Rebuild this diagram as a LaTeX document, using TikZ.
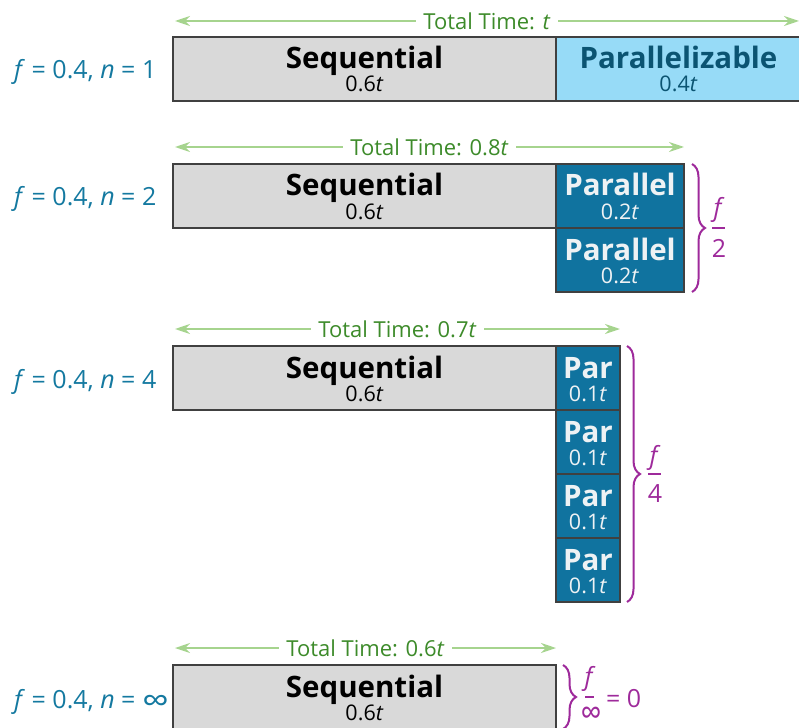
\documentclass[tikz,border=0pt]{standalone}
\usepackage{fontspec}
\setmainfont{Open Sans}
\usetikzlibrary{arrows.meta,decorations.pathreplacing,calc}
\definecolor{boxline}{HTML}{404040}
\definecolor{seqfill}{HTML}{D9D9D9}
\definecolor{lightblue}{HTML}{97DBF7}
\definecolor{lbtext}{HTML}{0B5472}
\definecolor{parblue}{HTML}{10739F}
\definecolor{partext}{HTML}{EEF2F4}
\definecolor{labelblue}{HTML}{1479A0}
\definecolor{arrgreen}{HTML}{A6D48E}
\definecolor{txtgreen}{HTML}{3D8B2A}
\definecolor{purp}{HTML}{9E2A9B}
\newcommand\blk[8]{%
  \node[#2, minimum width={(#5-#3)*1pt}, minimum height={(#6-#4)*1pt}] (#1) at (#3,#4) {};
  \node[ttl] (#1t) at ($(#1.north)+(0,32)$) {#7};
  \node[sub] (#1s) at ($(#1.north)+(0,55)$) {#8};}
\begin{document}
\begin{tikzpicture}[x=1pt,y=-1pt,
  blk/.style={draw=boxline, line width=2pt, inner sep=0pt, outer sep=0pt, anchor=north west},
  seqb/.style={blk, fill=seqfill},
  parz/.style={blk, fill=lightblue},
  parb/.style={blk, fill=parblue},
  ttl/.style={anchor=base, inner sep=0pt, font=\fontsize{29.5}{31}\selectfont\bfseries},
  sub/.style={anchor=base, inner sep=0pt, font=\fontsize{21.5}{23}\selectfont},
  lbl/.style={anchor=base west, inner sep=0pt, text=labelblue, font=\fontsize{25}{28}\selectfont},
  tt/.style={draw=arrgreen, line width=2pt, {Stealth[length=15pt,width=10pt,inset=5pt]}-{Stealth[length=15pt,width=10pt,inset=5pt]}},
  ttxt/.style={fill=white, text=txtgreen, inner xsep=7pt, inner ysep=1pt, font=\fontsize{22}{24}\selectfont},
  br/.style={draw=purp, line width=2pt, decorate, decoration={brace, amplitude=13pt}},
  fr/.style={text=purp, anchor=base, inner sep=0pt, font=\fontsize{25}{28}\selectfont},
  bar/.style={draw=purp, line width=2pt}
]
\clip (0,0) rectangle (799,727);
\path[use as bounding box] (0,0) rectangle (799,727);

% Row 1
\blk{s1}{seqb}{173}{37}{556}{101}{Sequential}{0.6\textit{t}}
\blk{p1}{parz}{556}{37}{801}{101}{\textcolor{lbtext}{Parallelizable}}{\textcolor{lbtext}{0.4\textit{t}}}
\node[lbl] (l1) at (14,79) {\textit{f} = 0.4, \textit{n} = 1};
\draw[tt] ($(s1.north west)+(2,-16)$) -- ($(p1.north east)+(-2,-16)$) node[ttxt, midway] (t1) {Total Time: \textit{t}};

% Row 2
\blk{s2}{seqb}{173}{164}{556}{228}{Sequential}{0.6\textit{t}}
\blk{p2a}{parb}{556}{164}{684}{228}{\textcolor{partext}{Parallel}}{\textcolor{partext}{0.2\textit{t}}}
\blk{p2b}{parb}{556}{228}{684}{292}{\textcolor{partext}{Parallel}}{\textcolor{partext}{0.2\textit{t}}}
\node[lbl] (l2) at (14,206) {\textit{f} = 0.4, \textit{n} = 2};
\draw[tt] ($(s2.north west)+(2,-17)$) -- ($(p2a.north east)+(0,-17)$) node[ttxt, midway] (t2) {Total Time: 0.8\textit{t}};
\draw[br] ($(p2a.north east)+(8,0)$) -- ($(p2b.south east)+(8,0)$);
\node[fr] (f2) at (719,216) {\textit{f}};
\draw[bar] (712,228) -- (725,228);
\node[fr] (d2) at (719,257) {2};

% Row 3
\blk{s3}{seqb}{173}{346}{556}{410}{Sequential}{0.6\textit{t}}
\blk{p3a}{parb}{556}{346}{620}{410}{\textcolor{partext}{Par}}{\textcolor{partext}{0.1\textit{t}}}
\blk{p3b}{parb}{556}{410}{620}{474}{\textcolor{partext}{Par}}{\textcolor{partext}{0.1\textit{t}}}
\blk{p3c}{parb}{556}{474}{620}{538}{\textcolor{partext}{Par}}{\textcolor{partext}{0.1\textit{t}}}
\blk{p3d}{parb}{556}{538}{620}{602}{\textcolor{partext}{Par}}{\textcolor{partext}{0.1\textit{t}}}
\node[lbl] (l3) at (14,388) {\textit{f} = 0.4, \textit{n} = 4};
\draw[tt] ($(s3.north west)+(2,-17)$) -- ($(p3a.north east)+(0,-17)$) node[ttxt, midway] (t3) {Total Time: 0.7\textit{t}};
\draw[br] ($(p3a.north east)+(7,0)$) -- ($(p3d.south east)+(7,0)$);
\node[fr] (f3) at (655,464) {\textit{f}};
\draw[bar] (648,474) -- (661,474);
\node[fr] (d3) at (655,502) {4};

% Row 4
\blk{s4}{seqb}{173}{665}{556}{729}{Sequential}{0.6\textit{t}}
\node[lbl] (l4) at (14,708) {\textit{f} = 0.4, \textit{n} = \raisebox{-4.5pt}{\fontsize{34}{34}\selectfont\scalebox{1.12}[1]{∞}}};
\draw[tt] ($(s4.north west)+(2,-17)$) -- ($(s4.north east)+(0,-17)$) node[ttxt, midway] (t4) {Total Time: 0.6\textit{t}};
\draw[br] ($(s4.north east)+(7,0)$) -- ($(s4.south east)+(7,0)$);
\node[fr] (f4) at (590,685) {\textit{f}};
\draw[bar] (585,697) -- (594,697);
\node[fr, font=\fontsize{27}{27}\selectfont] (d4) at (591,718) {\raisebox{-7pt}{\scalebox{1.1}[1.35]{∞}}};
\node[fr, anchor=base west] (e4) at (606,707) {= 0};
\end{tikzpicture}
\end{document}
